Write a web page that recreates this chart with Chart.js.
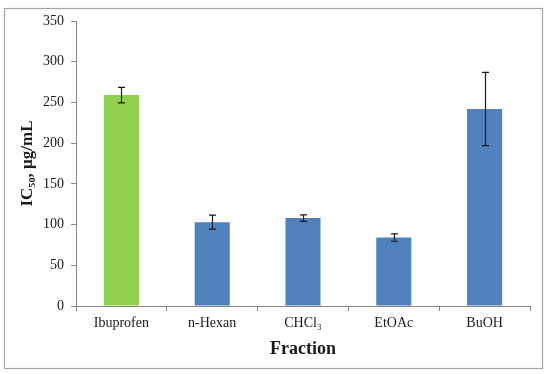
<!DOCTYPE html>
<html>
<head>
<meta charset="utf-8">
<script src="https://cdn.jsdelivr.net/npm/chart.js@4/dist/chart.umd.min.js"></script>
<style>
  html, body { margin: 0; padding: 0; background: #fff; }
  #c { display: block; }
</style>
</head>
<body>
<canvas id="c" width="550" height="374"></canvas>
<script>
const categories = ['Ibuprofen', 'n-Hexan', 'CHCl\u2083', 'EtOAc', 'BuOH'];
const ic50Values = [259, 103, 108, 84, 242];
const ic50Errors = [9.5, 8.5, 4, 4.5, 45];
const barColors = ['#92D050', '#4F81BD', '#4F81BD', '#4F81BD', '#4F81BD'];
const yTicks = [0, 50, 100, 150, 200, 250, 300, 350];

const frame = {
  id: 'frame',
  beforeDraw(chart) {
    const ctx = chart.ctx;
    ctx.save();
    ctx.fillStyle = '#ffffff';
    ctx.fillRect(0, 0, chart.width, chart.height);
    ctx.strokeStyle = '#a6a6a6';
    ctx.lineWidth = 1.2;
    ctx.strokeRect(4.5, 8.5, 538, 360);
    ctx.restore();
  }
};

const errorBars = {
  id: 'errorBars',
  afterDatasetsDraw(chart) {
    const ctx = chart.ctx;
    const meta = chart.getDatasetMeta(0);
    const y = chart.scales.y;
    ctx.save();
    ctx.strokeStyle = '#1a1a1a';
    ctx.lineWidth = 1.2;
    meta.data.forEach((bar, i) => {
      const v = ic50Values[i], e = ic50Errors[i];
      const x = Math.round(bar.x) + 0.5;
      const yt = y.getPixelForValue(v + e);
      const yb = y.getPixelForValue(v - e);
      ctx.beginPath();
      ctx.moveTo(x, yt); ctx.lineTo(x, yb);
      ctx.moveTo(x - 3.5, yt); ctx.lineTo(x + 3.5, yt);
      ctx.moveTo(x - 3.5, yb); ctx.lineTo(x + 3.5, yb);
      ctx.stroke();
    });
    ctx.restore();
  }
};

new Chart(document.getElementById('c'), {
  type: 'bar',
  data: {
    labels: categories,
    datasets: [{
      data: ic50Values,
      backgroundColor: barColors,
      borderWidth: 0,
      categoryPercentage: 1,
      barPercentage: 0.386
    }]
  },
  options: {
    responsive: false,
    animation: false,
    devicePixelRatio: 1,
    layout: { padding: { top: 21, right: 20, left: 0, bottom: 0 } },
    plugins: { legend: { display: false }, tooltip: { enabled: false } },
    scales: {
      x: {
        afterFit(scale) { scale.height = 68; },
        grid: { offset: true, drawOnChartArea: false, drawTicks: true, tickLength: 5, color: '#868686' },
        border: { display: true, color: '#868686', width: 1 },
        ticks: { color: '#1a1a1a', padding: 4, font: { family: 'Liberation Serif', size: 14 } },
        title: {
          display: true, text: 'Fraction', color: '#1a1a1a',
          font: { family: 'Liberation Serif', size: 18, weight: 'bold' },
          padding: { top: 0, bottom: 14 }
        }
      },
      y: {
        min: 0, max: 350,
        afterFit(scale) { scale.width = 76; },
        afterBuildTicks(scale) { scale.ticks = yTicks.map(v => ({ value: v })); },
        grid: { drawOnChartArea: false, drawTicks: true, tickLength: 5, color: '#868686' },
        border: { display: true, color: '#868686', width: 1 },
        ticks: { color: '#1a1a1a', padding: 7, font: { family: 'Liberation Serif', size: 14 } },
        title: {
          display: true, text: 'IC\u2085\u2080, \u00b5g/mL', color: '#1a1a1a',
          font: { family: 'Liberation Serif', size: 17, weight: 'bold' },
          padding: { top: 17, bottom: 0 }
        }
      }
    }
  },
  plugins: [frame, errorBars]
});
</script>
</body>
</html>
